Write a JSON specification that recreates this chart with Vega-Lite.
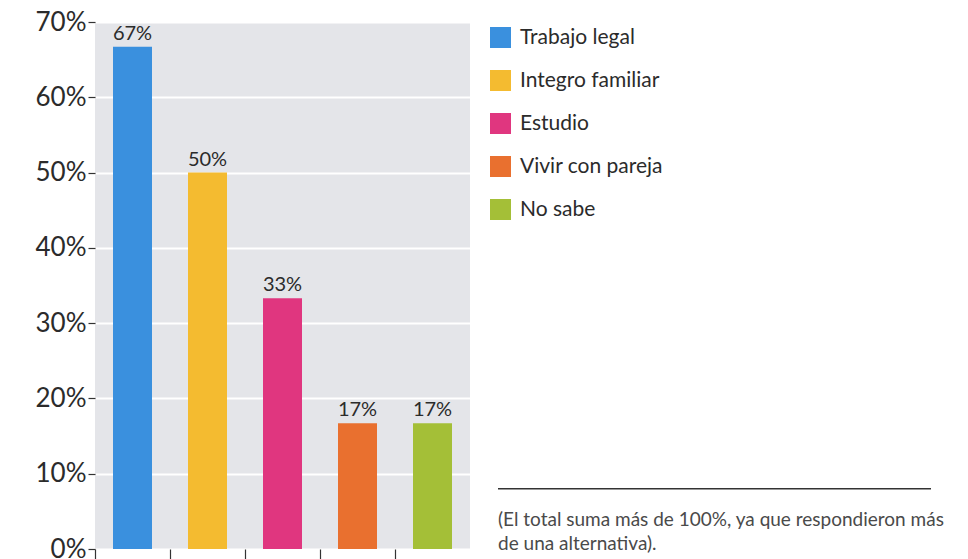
{
  "$schema": "https://vega.github.io/schema/vega-lite/v6.json",
  "padding": {"left": 0, "top": 9, "right": 0, "bottom": 0},
  "background": "white",
  "config": {
    "view": {"stroke": null},
    "font": "Lato",
    "legend": {"padding": 0}
  },
  "spacing": 27,
  "hconcat": [
    {
      "width": 375,
      "height": 527,
      "view": {"fill": "#e4e5e9", "stroke": null},
      "data": {
        "values": [
          {"categoria": "Trabajo legal", "valor": 66.7, "etiqueta": "67%"},
          {"categoria": "Integro familiar", "valor": 50, "etiqueta": "50%"},
          {"categoria": "Estudio", "valor": 33.3, "etiqueta": "33%"},
          {"categoria": "Vivir con pareja", "valor": 16.7, "etiqueta": "17%"},
          {"categoria": "No sabe", "valor": 16.7, "etiqueta": "17%"}
        ]
      },
      "encoding": {
        "x": {
          "field": "categoria",
          "type": "nominal",
          "sort": null,
          "scale": {"paddingInner": 0.48, "paddingOuter": 0.24},
          "axis": {
            "title": null,
            "labels": false,
            "domain": false,
            "ticks": true,
            "tickOffset": -37.5,
            "tickSize": 10,
            "tickColor": "#333333",
            "tickWidth": 1.2,
            "grid": false
          }
        },
        "y": {
          "field": "valor",
          "type": "quantitative",
          "scale": {"domain": [0, 70], "nice": false},
          "axis": {
            "title": null,
            "values": [0, 10, 20, 30, 40, 50, 60, 70],
            "labelExpr": "datum.value + '%'",
            "labelFontSize": 26,
            "labelColor": "#2b2b2b",
            "labelPadding": 2,
            "tickSize": 7,
            "tickColor": "#333333",
            "tickWidth": 1.2,
            "domain": false,
            "grid": true,
            "gridColor": "#ffffff",
            "gridWidth": 2,
            "minExtent": 95,
            "maxExtent": 95
          }
        }
      },
      "layer": [
        {
          "mark": {"type": "bar"},
          "encoding": {
            "color": {
              "field": "categoria",
              "type": "nominal",
              "sort": null,
              "scale": {
                "domain": ["Trabajo legal", "Integro familiar", "Estudio", "Vivir con pareja", "No sabe"],
                "range": ["#3a90de", "#f4bb30", "#e0367f", "#e9702f", "#a4bf37"]
              },
              "legend": {
                "title": null,
                "orient": "none",
                "legendX": 395,
                "legendY": 5,
                "symbolType": "square",
                "symbolSize": 440,
                "symbolStrokeWidth": 0,
                "labelFontSize": 21,
                "labelColor": "#2b2b2b",
                "labelOffset": 9,
                "rowPadding": 21,
                "labelLimit": 300
              }
            }
          }
        },
        {
          "mark": {"type": "text", "baseline": "bottom", "dy": -3, "fontSize": 20, "color": "#2b2b2b"},
          "encoding": {"text": {"field": "etiqueta"}}
        }
      ]
    },
    {
      "width": 433,
      "height": 527,
      "data": {
        "values": [
          {"nota": "(El total suma más de 100%, ya que respondieron más\nde una alternativa)."}
        ]
      },
      "layer": [
        {
          "mark": {"type": "rule", "color": "#333333", "strokeWidth": 1.3},
          "encoding": {
            "x": {"datum": 0, "type": "quantitative", "scale": {"domain": [0, 1]}, "axis": null},
            "x2": {"datum": 1},
            "y": {"datum": 8, "type": "quantitative", "scale": {"domain": [0, 70], "nice": false}, "axis": null}
          }
        },
        {
          "mark": {"type": "text", "align": "left", "baseline": "top", "fontSize": 19, "color": "#4a4a4a", "lineBreak": "\n", "lineHeight": 24},
          "encoding": {
            "x": {"datum": 0, "type": "quantitative", "scale": {"domain": [0, 1]}, "axis": null},
            "y": {"datum": 5.1, "type": "quantitative", "scale": {"domain": [0, 70], "nice": false}, "axis": null},
            "text": {"field": "nota"}
          }
        }
      ]
    }
  ]
}
